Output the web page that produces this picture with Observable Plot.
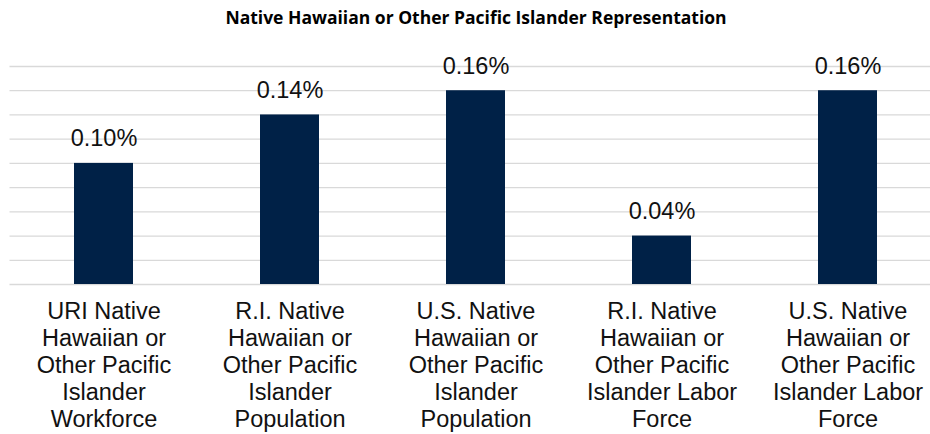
<!DOCTYPE html>
<html>
<head>
<meta charset="utf-8">
<script src="https://cdn.jsdelivr.net/npm/d3@7"></script>
<script src="https://cdn.jsdelivr.net/npm/@observablehq/plot@0.6"></script>
<style>
  html, body { margin: 0; padding: 0; background: #fff; overflow: hidden; }
  #chart { width: 930px; height: 434px; overflow: hidden; }
  #chart svg { max-width: none !important; }
</style>
</head>
<body>
<div id="chart"></div>
<script>
const title = "Native Hawaiian or Other Pacific Islander Representation";
const categories = [
  "URI Native Hawaiian or Other Pacific Islander Workforce",
  "R.I. Native Hawaiian or Other Pacific Islander Population",
  "U.S. Native Hawaiian or Other Pacific Islander Population",
  "R.I. Native Hawaiian or Other Pacific Islander Labor Force",
  "U.S. Native Hawaiian or Other Pacific Islander Labor Force"
];
const axisLabels = [
  "URI Native\nHawaiian or\nOther Pacific\nIslander\nWorkforce",
  "R.I. Native\nHawaiian or\nOther Pacific\nIslander\nPopulation",
  "U.S. Native\nHawaiian or\nOther Pacific\nIslander\nPopulation",
  "R.I. Native\nHawaiian or\nOther Pacific\nIslander Labor\nForce",
  "U.S. Native\nHawaiian or\nOther Pacific\nIslander Labor\nForce"
];
const values = [0.10, 0.14, 0.16, 0.04, 0.16];
const valueLabels = ["0.10%", "0.14%", "0.16%", "0.04%", "0.16%"];
const gridTicks = [0, 0.02, 0.04, 0.06, 0.08, 0.10, 0.12, 0.14, 0.16, 0.18];

const data = categories.map((c, i) => ({
  category: c, value: values[i], valueLabel: valueLabels[i], axisLabel: axisLabels[i]
}));

const chart = Plot.plot({
  width: 942,
  height: 434,
  marginTop: 66,
  marginBottom: 150,
  marginLeft: 9.5,
  marginRight: 0.5,
  style: {maxWidth: "none", background: "#fff", fontFamily: "'Liberation Sans', Arial, sans-serif"},
  x: {domain: categories, paddingInner: 0.685, paddingOuter: 0.3425, axis: null},
  y: {domain: [0, 0.18], axis: null},
  marks: [
    Plot.ruleY(gridTicks, {stroke: "#d9d9d9", strokeWidth: 1.3}),
    Plot.barY(data, {x: "category", y: "value", fill: "#002147"}),
    Plot.text(data, {
      x: "category", y: "value", text: "valueLabel",
      lineAnchor: "bottom", dy: -17, fontSize: 23.5, fill: "#111"
    }),
    Plot.text(data, {
      x: "category", y: () => 0, text: "axisLabel",
      lineAnchor: "top", lineHeight: 26.9 / 23.5, dy: 15.5, fontSize: 23.5, fill: "#111"
    }),
    Plot.text([title], {
      frameAnchor: "top", lineAnchor: "bottom", dy: -42.3,
      fontSize: 17.5, fontWeight: "bold", fill: "#000",
      fontFamily: "'Open Sans', sans-serif",
      letterSpacing: 1.1
    })
  ]
});
document.getElementById("chart").appendChild(chart);
</script>
</body>
</html>
